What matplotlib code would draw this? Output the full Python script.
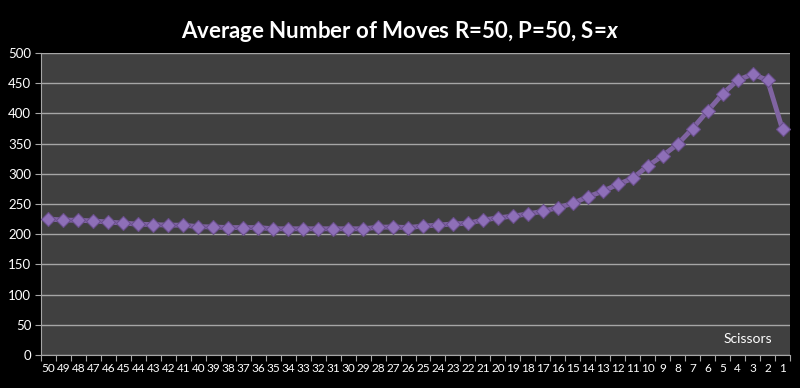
import numpy as np
import matplotlib.pyplot as plt

# data
scissors = list(range(50, 0, -1))
moves = [225, 223.5, 223, 222, 220, 218.5, 216.5, 216, 215, 215,
         212.5, 212, 211, 211, 211, 209, 209, 209, 209, 209,
         209, 209, 211.5, 212, 211, 213.5, 215, 217, 218, 223.5,
         227, 230, 233.5, 238, 244, 251, 262, 271, 282.5, 292.5,
         313, 330, 349, 375, 404, 432, 455, 465, 455, 373.5]

plt.rcParams['font.family'] = ['Lato', 'DejaVu Sans']
plt.rcParams['mathtext.fontset'] = 'custom'
plt.rcParams['mathtext.it'] = 'Lato:italic:bold'
plt.rcParams['mathtext.rm'] = 'Lato:bold'

fig = plt.figure(figsize=(8, 3.88), dpi=100, facecolor='black')
ax = fig.add_axes([0.05125, 0.085, 0.93625, 0.7784])
ax.set_facecolor('#404040')

x = np.arange(len(scissors))
ax.plot(x, moves, color='#8064A2', lw=3.5, marker='D', ms=7.5,
        markerfacecolor='#8E6FB8', markeredgecolor='#6A4F8C', mew=0.8, zorder=3)

ax.set_xlim(-0.5, len(scissors) - 0.5)
ax.set_ylim(0, 500)
ax.set_yticks(range(0, 501, 50))
ax.yaxis.grid(True, color='#a6a6a6', lw=1)
ax.set_axisbelow(True)

# ticks at category boundaries, labels at centers
ax.set_xticks(np.arange(-0.5, len(scissors), 1))
ax.set_xticklabels([])
ax.set_xticks(x, minor=True)
ax.set_xticklabels([str(s) for s in scissors], minor=True)
ax.tick_params(axis='x', which='major', length=4, color='#a6a6a6')
ax.tick_params(axis='x', which='minor', length=0, pad=6, labelsize=8.5, labelcolor='white')
ax.tick_params(axis='y', length=4, color='#a6a6a6', labelsize=9.5, labelcolor='white', pad=3)

for side in ['top', 'right']:
    ax.spines[side].set_visible(False)
for side in ['left', 'bottom']:
    ax.spines[side].set_color('#a6a6a6')

ax.text(48.3, 27, 'Scissors', color='white', fontsize=10, ha='right', va='center')

fig.text(0.5, 0.918, 'Average Number of Moves R=50, P=50, S=$x$', color='white',
         fontsize=16, fontweight='bold', ha='center', va='center')

fig.savefig('out.png', dpi=100, facecolor='black')
